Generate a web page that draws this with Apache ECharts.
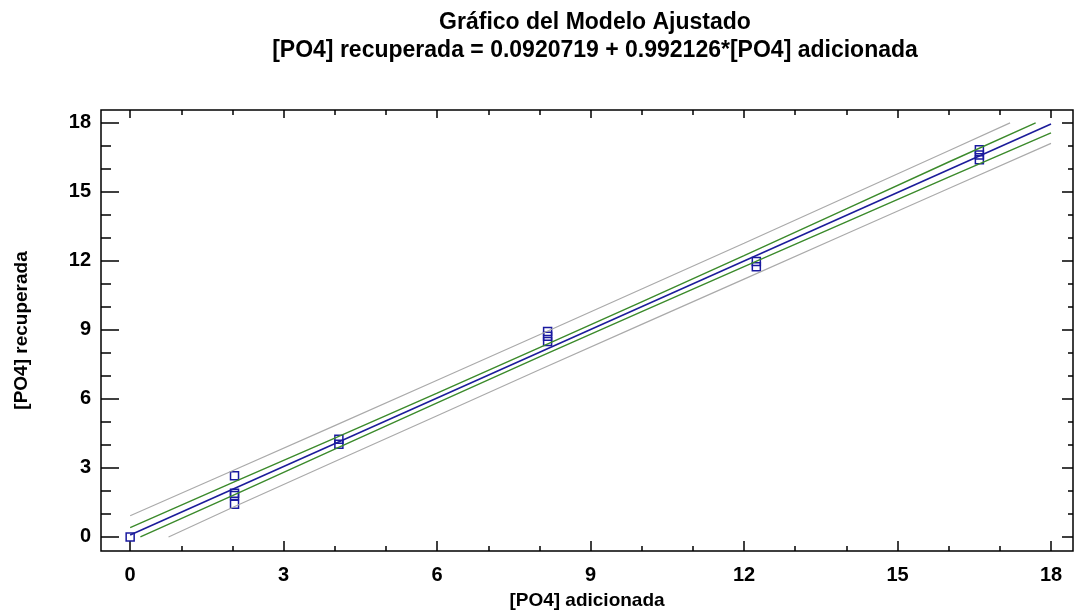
<!DOCTYPE html>
<html>
<head>
<meta charset="utf-8">
<script src="https://cdn.jsdelivr.net/npm/echarts@6/dist/echarts.min.js"></script>
<style>
  html, body { margin: 0; padding: 0; background: #fff; }
  #chart-container { width: 1074px; height: 615px; }
</style>
</head>
<body>
<div id="chart-container"></div>
<script>
// observed points: [PO4] adicionada vs [PO4] recuperada
const pointX = [0, 2.04, 2.04, 2.04, 2.04, 4.08, 4.08, 8.16, 8.16, 8.16, 12.24, 12.24, 16.6, 16.6, 16.6];
const pointY = [0.0, 2.66, 1.9, 1.8, 1.42, 4.25, 4.03, 8.93, 8.72, 8.5, 11.97, 11.75, 16.83, 16.6, 16.4];

// fitted line
const fitX = [0, 18];
const fitY = [0.09, 17.95];

// confidence limits (green)
const confUpX = [0, 2, 4, 6, 8, 10, 12, 14, 16, 17.7];
const confUpY = [0.41, 2.36, 4.30, 6.25, 8.23, 10.22, 12.23, 14.26, 16.30, 18.0];
const confLoX = [0.2, 2, 4, 6, 8, 10, 12, 14, 16, 18];
const confLoY = [0.0, 1.80, 3.82, 5.83, 7.83, 9.80, 11.75, 13.70, 15.64, 17.57];

// prediction limits (gray)
const predUpX = [0, 2, 4, 6, 8, 10, 12, 14, 16, 17.2];
const predUpY = [0.92, 2.88, 4.84, 6.81, 8.79, 10.78, 12.77, 14.78, 16.79, 18.0];
const predLoX = [0.75, 2, 4, 6, 8, 10, 12, 14, 16, 18];
const predLoY = [0.0, 1.28, 3.28, 5.27, 7.27, 9.24, 11.21, 13.18, 15.15, 17.11];

const majorTicks = [0, 3, 6, 9, 12, 15, 18];
const minorTicks = [0, 1, 2, 3, 4, 5, 6, 7, 8, 9, 10, 11, 12, 13, 14, 15, 16, 17, 18];

function pairs(xs, ys) {
  return xs.map(function (x, i) { return [x, ys[i]]; });
}

var dom = document.getElementById('chart-container');
var myChart = echarts.init(dom, null, { renderer: 'canvas' });

const labelFont = { fontFamily: 'Liberation Sans', fontWeight: 'bold', fontSize: 20, color: '#000' };
const nameFont = { fontFamily: 'Liberation Sans', fontWeight: 'bold', fontSize: 19, color: '#000' };
const xMin = -0.57, xMax = 18.43;
const yMin = -0.61, yMax = 18.56;

function tickAxis(pos, min, max, values, len, margin, extra) {
  return Object.assign({
    type: 'value',
    position: pos,
    min: min,
    max: max,
    axisLine: { show: false, onZero: false },
    splitLine: { show: false },
    axisTick: { show: true, inside: true, length: len, customValues: values,
                lineStyle: { color: '#000', width: 1.5 } },
    axisLabel: margin
      ? Object.assign({ show: true, customValues: values, margin: margin }, labelFont)
      : { show: false }
  }, extra || {});
}

var option = {
  animation: false,
  backgroundColor: '#fff',
  title: {
    text: 'Gráfico del Modelo Ajustado\n[PO4] recuperada = 0.0920719 + 0.992126*[PO4] adicionada',
    left: 590,
    top: 4,
    textAlign: 'center',
    textStyle: { fontFamily: 'Liberation Sans', fontWeight: 'bold', fontSize: 23, lineHeight: 28, color: '#000' }
  },
  grid: {
    left: 101, top: 110, right: 1, bottom: 63,
    show: true, borderColor: '#000', borderWidth: 1.5, backgroundColor: '#fff'
  },
  xAxis: [
    tickAxis('bottom', xMin, xMax, majorTicks, 10, 14, {
      name: '[PO4] adicionada', nameLocation: 'middle', nameGap: 40,
      nameTextStyle: nameFont
    }),
    tickAxis('bottom', xMin, xMax, minorTicks, 5, 0),
    tickAxis('top', xMin, xMax, majorTicks, 8, 0),
    tickAxis('top', xMin, xMax, minorTicks, 5, 0)
  ],
  yAxis: [
    tickAxis('left', yMin, yMax, majorTicks, 18, 10, {
      name: '[PO4] recuperada', nameLocation: 'middle', nameGap: 70,
      nameTextStyle: nameFont
    }),
    tickAxis('left', yMin, yMax, minorTicks, 10, 0),
    tickAxis('right', yMin, yMax, majorTicks, 11, 0),
    tickAxis('right', yMin, yMax, minorTicks, 5, 0)
  ],
  series: [
    {
      type: 'line', data: pairs(predUpX, predUpY), showSymbol: false,
      lineStyle: { color: '#aaaaaa', width: 1.2 }
    },
    {
      type: 'line', data: pairs(predLoX, predLoY), showSymbol: false,
      lineStyle: { color: '#aaaaaa', width: 1.2 }
    },
    {
      type: 'line', data: pairs(confUpX, confUpY), showSymbol: false,
      lineStyle: { color: '#3b8a2b', width: 1.4 }
    },
    {
      type: 'line', data: pairs(confLoX, confLoY), showSymbol: false,
      lineStyle: { color: '#3b8a2b', width: 1.4 }
    },
    {
      type: 'line', data: pairs(fitX, fitY), showSymbol: false,
      lineStyle: { color: '#1c1c9a', width: 1.6 }
    },
    {
      type: 'scatter', data: pairs(pointX, pointY),
      symbol: 'rect', symbolSize: 8,
      itemStyle: { color: 'rgba(255,255,255,0)', borderColor: '#1a1aa0', borderWidth: 1.5, opacity: 1 }
    }
  ]
};

if (option && typeof option === 'object') {
  myChart.setOption(option);
}

window.addEventListener('resize', myChart.resize);
</script>
</body>
</html>
